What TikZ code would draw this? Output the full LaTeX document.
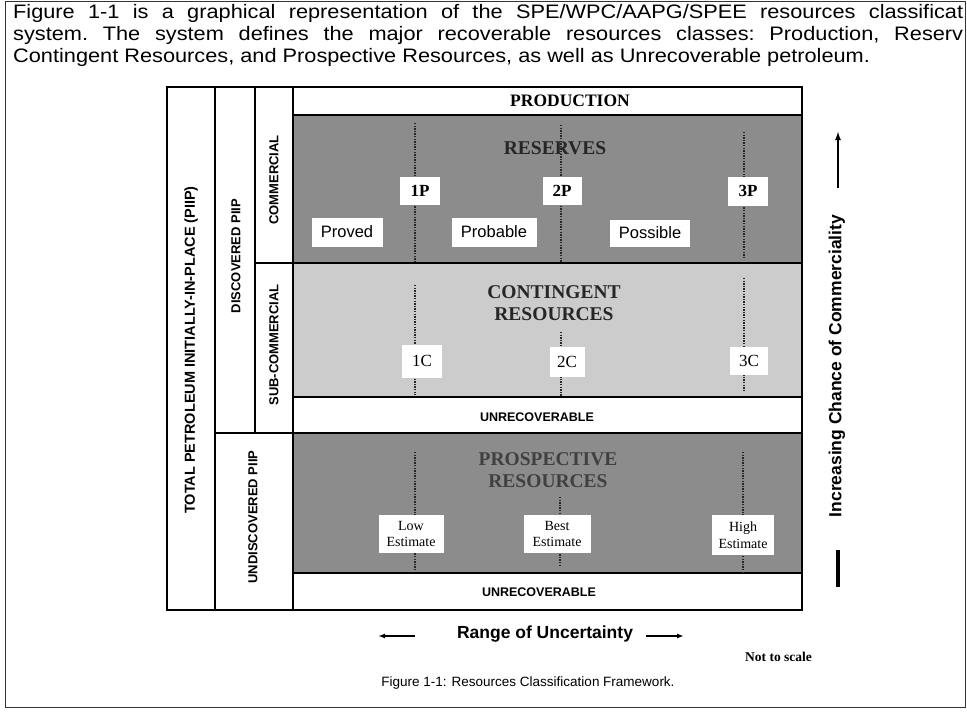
\documentclass[tikz,border=0pt]{standalone}
\usepackage{fontspec}
\setmainfont{Liberation Serif}
\setsansfont{Liberation Sans}
\newfontfamily\widesans[FakeStretch=1.115]{Liberation Sans}
\usetikzlibrary{arrows.meta}
\definecolor{darkfill}{gray}{0.55}
\definecolor{lightfill}{gray}{0.80}
\begin{document}
\begin{tikzpicture}[x=1pt,y=-1pt,
  cell/.style={draw=black, line width=2pt, anchor=north west, inner sep=0pt, outer sep=0pt},
  wbox/.style={fill=white, inner sep=0pt, outer sep=0pt},
  colsans/.style={font=\sffamily\bfseries\fontsize{13}{13}\selectfont, rotate=90},
  head/.style={font=\rmfamily\bfseries\fontsize{19.5}{22}\selectfont, align=center, text=black!85},
  numlab/.style={wbox, font=\rmfamily\bfseries\fontsize{17}{17}\selectfont},
  clab/.style={wbox, font=\rmfamily\fontsize{17}{17}\selectfont},
  plab/.style={wbox, font=\sffamily\fontsize{16.5}{16.5}\selectfont},
  elab/.style={wbox, font=\rmfamily\fontsize{14}{16.5}\selectfont, align=center},
  unrec/.style={font=\sffamily\bfseries\fontsize{12.5}{12.5}\selectfont},
  dotline/.style={line width=1.6pt, dash pattern=on 1.3pt off 1.3pt, black!85},
  toptext/.style={font=\widesans\fontsize{19.5}{22}\selectfont\frenchspacing, anchor=base west, inner sep=0pt}
]
\useasboundingbox (0,0) rectangle (967,717);
% page frame
\draw[line width=1pt, black!80] (5,2) rectangle (965,707);

% top text (the scan cuts the first two lines at the page edge)
\node[toptext] (t1) at (13,19) {\makebox[950pt][s]{Figure 1-1 is a graphical representation of the SPE/WPC/AAPG/SPEE resources classificat}};
\node[toptext] (t2) at (13,41) {\makebox[950pt][s]{system. The system defines the major recoverable resources classes: Production, Reserv}};
\node[toptext] (t3) at (13,63) {Contingent Resources, and Prospective Resources, as well as Unrecoverable petroleum.};

% right-hand rows
\node[cell, fill=white, minimum width=509pt, minimum height=28pt] (prod) at (293,87) {};
\node[cell, fill=darkfill, minimum width=509pt, minimum height=148pt] (res) at (293,115) {};
\node[cell, fill=lightfill, minimum width=509pt, minimum height=134pt] (cont) at (293,263) {};
\node[cell, fill=white, minimum width=509pt, minimum height=36pt] (unr1) at (293,397) {};
\node[cell, fill=darkfill, minimum width=509pt, minimum height=140pt] (pros) at (293,433) {};
\node[cell, fill=white, minimum width=509pt, minimum height=37pt] (unr2) at (293,573) {};

% left-hand columns
\node[cell, fill=white, minimum width=48pt, minimum height=523pt] (total) at (167,87) {};
\node[cell, fill=white, minimum width=40pt, minimum height=346pt] (disc) at (215,87) {};
\node[cell, fill=white, minimum width=38pt, minimum height=176pt] (comm) at (255,87) {};
\node[cell, fill=white, minimum width=38pt, minimum height=170pt] (subc) at (255,263) {};
\node[cell, fill=white, minimum width=78pt, minimum height=177pt] (undisc) at (215,433) {};
% heavy outer border
\draw[line width=2.6pt] (total.north west) rectangle (unr2.south east);

% column labels
\node[colsans, font=\sffamily\bfseries\fontsize{14.5}{14.5}\selectfont] (ltotal) at (191,350) {TOTAL PETROLEUM INITIALLY-IN-PLACE (PIIP)};
\node[colsans] (ldisc) at (236,256) {DISCOVERED PIIP};
\node[colsans] (lcomm) at (274,180) {COMMERCIAL};
\node[colsans] (lsubc) at (274,345) {SUB-COMMERCIAL};
\node[colsans] (lundisc) at (253,517) {UNDISCOVERED PIIP};

% dotted lines
\coordinate (d1a) at (415,123); \coordinate (d1b) at (415,262);
\coordinate (d2a) at (561,125); \coordinate (d2b) at (561,262);
\coordinate (d3a) at (744,132); \coordinate (d3b) at (744,257);
\coordinate (c1a) at (415,285); \coordinate (c1b) at (415,395);
\coordinate (c2a) at (561,332); \coordinate (c2b) at (561,396);
\coordinate (c3a) at (744,278); \coordinate (c3b) at (744,392);
\coordinate (e1a) at (415,452); \coordinate (e1b) at (415,570);
\coordinate (e2a) at (560,497); \coordinate (e2b) at (560,565);
\coordinate (e3a) at (743,452); \coordinate (e3b) at (743,573);
\foreach \a/\b in {d1a/d1b,d2a/d2b,d3a/d3b,c1a/c1b,c2a/c2b,c3a/c3b,e1a/e1b,e2a/e2b,e3a/e3b}
  \draw[dotline] (\a) -- (\b);

% headings
\node[font=\rmfamily\bfseries\fontsize{17.5}{17.5}\selectfont] (lprod) at (570,101) {PRODUCTION};
\node[head] (lres) at (555,148) {RESERVES};
\node[head] (lcont) at (554,303) {CONTINGENT\\RESOURCES};
\node[head, text=black!75] (lpros) at (548,470) {PROSPECTIVE\\RESOURCES};
\node[unrec] (lunr1) at (537,417) {UNRECOVERABLE};
\node[unrec] (lunr2) at (539,592) {UNRECOVERABLE};

% white label boxes
\node[numlab, minimum width=40pt, minimum height=28pt] (p1) at (420,191) {1P};
\node[numlab, minimum width=39pt, minimum height=28pt] (p2) at (562,191) {2P};
\node[numlab, minimum width=40pt, minimum height=29pt] (p3) at (748,191) {3P};
\node[plab, minimum width=71pt, minimum height=29pt] (proved) at (347,232) {Proved};
\node[plab, minimum width=85pt, minimum height=29pt] (probable) at (494,232) {Probable};
\node[plab, minimum width=80pt, minimum height=27pt] (possible) at (650,233) {Possible};
\node[clab, minimum width=40pt, minimum height=33pt] (c1) at (422,361) {1C};
\node[clab, minimum width=35pt, minimum height=30pt] (c2) at (567,362) {2C};
\node[clab, minimum width=38pt, minimum height=28pt] (c3) at (749,361) {3C};
\node[elab, minimum width=65pt, minimum height=38pt] (low) at (411,534) {Low\\Estimate};
\node[elab, minimum width=67pt, minimum height=38pt] (best) at (557,534) {Best\\Estimate};
\node[elab, minimum width=62pt, minimum height=40pt] (high) at (743,535) {High\\Estimate};

% commerciality arrow
\coordinate (ua) at (838,188); \coordinate (ub) at (838,131);
\coordinate (uc) at (838,550); \coordinate (ud) at (838,587);
\draw[line width=2pt, -{Latex[length=9pt,width=6pt]}] (ua) -- (ub);
\draw[line width=3.2pt] (uc) -- (ud);
\node[font=\sffamily\bfseries\fontsize{17.5}{17.5}\selectfont, rotate=90] (linc) at (837,366) {Increasing Chance of Commerciality};

% uncertainty arrows
\node[font=\sffamily\bfseries\fontsize{17.5}{17.5}\selectfont] (lrange) at (545,634) {Range of Uncertainty};
\coordinate (la) at (415,636); \coordinate (lb) at (378,636);
\coordinate (ra) at (646,636); \coordinate (rb) at (684,636);
\draw[line width=1.6pt, -{Latex[length=7pt,width=5pt]}] (la) -- (lb);
\draw[line width=1.6pt, -{Latex[length=7pt,width=5pt]}] (ra) -- (rb);
\node[font=\rmfamily\bfseries\fontsize{13.5}{13.5}\selectfont, anchor=west, inner sep=0pt] (lscale) at (745,657) {Not to scale};

% caption
\node[font=\sffamily\fontsize{13.5}{13.5}\selectfont] (cap) at (528,683) {Figure 1-1: Resources Classification Framework.};
\end{tikzpicture}
\end{document}
